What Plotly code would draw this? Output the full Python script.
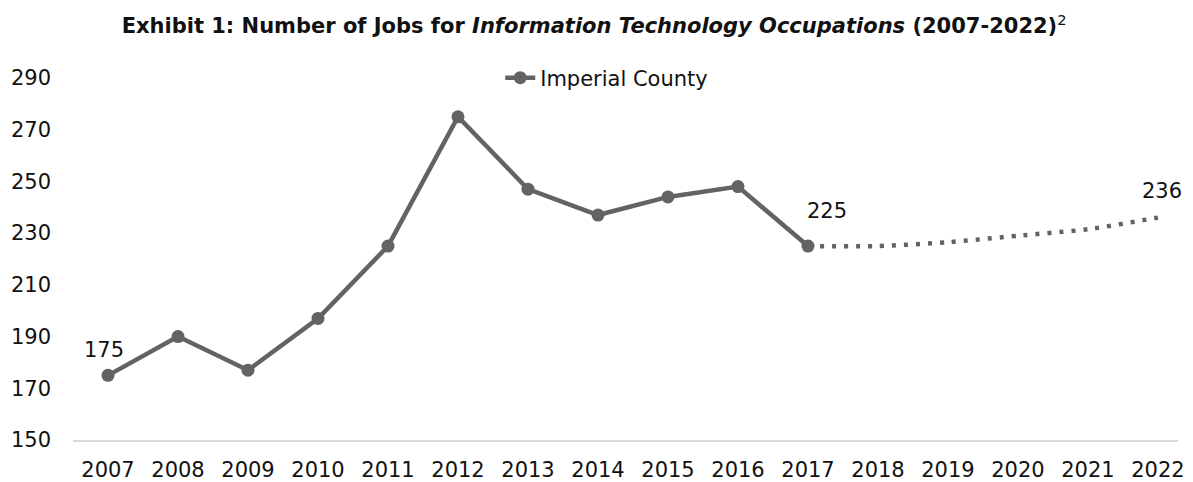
import plotly.graph_objects as go

years = [2007, 2008, 2009, 2010, 2011, 2012, 2013, 2014, 2015, 2016, 2017]
jobs = [175, 190, 177, 197, 225, 275, 247, 237, 244, 248, 225]
proj_years = [2017, 2018, 2019, 2020, 2021, 2022]
proj_jobs = [225, 225, 226.5, 229, 231.5, 236]
label_years = [2007, 2017, 2022]
label_values = [175, 225, 236]
all_years = list(range(2007, 2023))
y_ticks = [150, 170, 190, 210, 230, 250, 270, 290]

# label offsets in pixels (style)
label_xshift = [-4, 19, 4]
label_yshift = [25, 35, 27]

FONT = "DejaVu Sans"
GREY = "#636363"
TXT = "#111111"

fig = go.Figure()
fig.add_trace(go.Scatter(
    x=proj_years, y=proj_jobs, mode="lines",
    line=dict(color=GREY, width=4.5, dash="4px,8px", shape="spline", smoothing=0.6),
    showlegend=False, hoverinfo="skip"))
fig.add_trace(go.Scatter(
    x=years, y=jobs, mode="lines+markers", name="Imperial County",
    line=dict(color=GREY, width=4.5),
    marker=dict(color=GREY, size=13)))

for yr, v, dx, dy in zip(label_years, label_values, label_xshift, label_yshift):
    fig.add_annotation(x=yr, y=v, text=str(v), showarrow=False,
                       xshift=dx, yshift=dy,
                       font=dict(family=FONT, size=21, color=TXT))

fig.update_layout(
    width=1193, height=482,
    paper_bgcolor="white", plot_bgcolor="white",
    margin=dict(l=73, r=15, t=78, b=42, autoexpand=False),
    font=dict(family=FONT, size=21, color=TXT),
    title=dict(
        text="<b>Exhibit 1: Number of Jobs for <i>Information Technology Occupations</i> (2007-2022)</b><sup>2</sup>",
        x=0.498, xref="container", xanchor="center",
        y=1 - 26 / 482, yref="container", yanchor="middle",
        font=dict(family=FONT, size=21, color=TXT)),
    legend=dict(orientation="h", x=0.483, xanchor="center", y=1.0, yanchor="middle",
                font=dict(family=FONT, size=21, color=TXT),
                bgcolor="rgba(0,0,0,0)"),
    xaxis=dict(range=[2006.5, 2022.286], tickvals=all_years,
               ticktext=[str(y) for y in all_years],
               showgrid=False, zeroline=False, showline=True,
               linecolor="#d9d9d9", linewidth=1.5, ticks="",
               ticklabelstandoff=10, automargin=False,
               tickfont=dict(family=FONT, size=21, color=TXT)),
    yaxis=dict(range=[150, 290], tickvals=y_ticks, showgrid=False,
               zeroline=False, showline=False, ticks="",
               ticklabelstandoff=21, automargin=False,
               tickfont=dict(family=FONT, size=21, color=TXT)),
)

fig.write_html("out.html", config={"displayModeBar": False},
               post_script="document.body.style.margin='0';")
